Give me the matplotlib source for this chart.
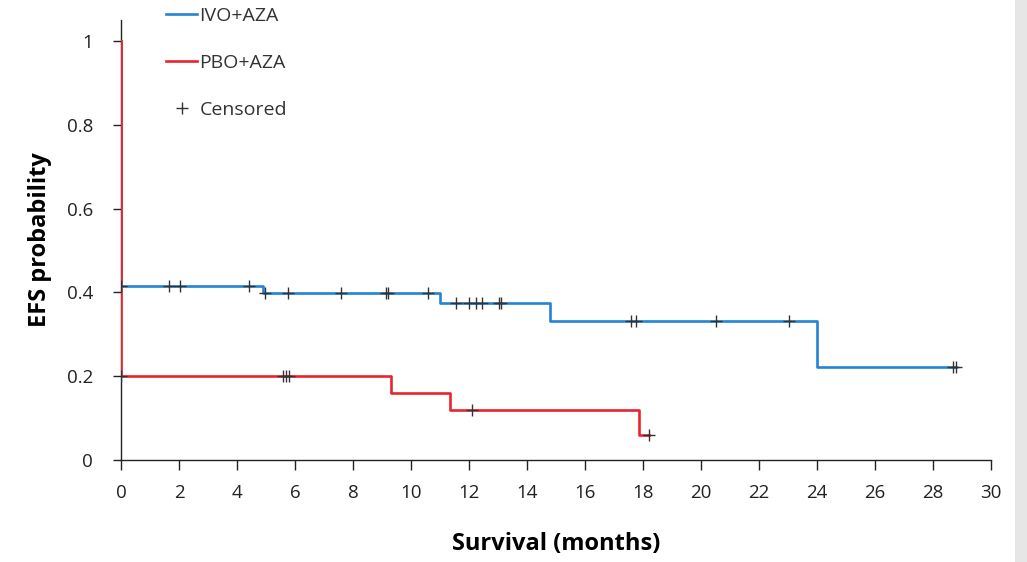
import numpy as np
import matplotlib
matplotlib.use('Agg')
import matplotlib.pyplot as plt
from matplotlib.lines import Line2D
from matplotlib.patches import Rectangle

# Kaplan-Meier step data
ivo_drop_times = [0, 4.9, 11.0, 14.8, 24.0]
ivo_levels = [0.415, 0.399, 0.375, 0.332, 0.222]
ivo_end = 28.8
ivo_censored = [0, 1.65, 2.05, 4.4, 4.95, 5.75, 7.6, 9.15, 9.22, 10.6, 11.55,
                12.0, 12.25, 12.45, 13.03, 13.1, 17.6, 17.75, 20.5, 23.05,
                28.7, 28.8]

pbo_drop_times = [0, 9.3, 11.35, 17.85]
pbo_levels = [0.2, 0.16, 0.12, 0.06]
pbo_end = 18.2
pbo_censored = [0, 5.6, 5.7, 5.8, 12.1, 18.2]

x_ticks = list(range(0, 31, 2))
y_ticks = [0, 0.2, 0.4, 0.6, 0.8, 1]
y_tick_labels = ['0', '0.2', '0.4', '0.6', '0.8', '1']

BLUE = '#2383d4'
RED = '#e8242c'

plt.rcParams['font.family'] = ['Open Sans', 'DejaVu Sans']


def draw_km(ax, drops, levels, end, censored, color):
    xs = [0] + list(drops) + [end]
    ys = [1.0] + list(levels) + [levels[-1]]
    ax.step(xs, ys, where='post', color=color, linewidth=1.9, zorder=3)
    idx = np.searchsorted(drops, censored, side='right') - 1
    cy = np.array(levels)[idx]
    ax.plot(censored, cy, linestyle='none', marker='+', markersize=8,
            markeredgewidth=1.0, color='#333333', zorder=4)


fig = plt.figure(figsize=(10.27, 5.62), dpi=100)
ax = fig.add_axes([0.1178, 0.1815, 0.8472, 0.7829])

draw_km(ax, ivo_drop_times, ivo_levels, ivo_end, ivo_censored, BLUE)
draw_km(ax, pbo_drop_times, pbo_levels, pbo_end, pbo_censored, RED)

ax.set_xlim(0, 30)
ax.set_ylim(0, 1.05)
ax.set_xticks(x_ticks)
ax.set_yticks(y_ticks)
ax.set_yticklabels(y_tick_labels)
ax.tick_params(axis='x', direction='out', length=7, width=1, labelsize=13.5,
               colors='#222222', pad=10)
ax.tick_params(axis='y', direction='out', length=6, width=1, labelsize=13.5,
               colors='#222222', pad=14)
for s in ['top', 'right']:
    ax.spines[s].set_visible(False)
for s in ['left', 'bottom']:
    ax.spines[s].set_color('#222222')
    ax.spines[s].set_linewidth(1)
ax.spines['left'].set_position(('data', 0))
ax.spines['bottom'].set_bounds(0, 30)

ax.set_xlabel('Survival (months)', fontsize=17, fontweight='bold', labelpad=22)
ax.set_ylabel('EFS probability', fontsize=17, fontweight='bold', labelpad=11)

handles = [
    Line2D([], [], color=BLUE, linewidth=1.9),
    Line2D([], [], color=RED, linewidth=1.9),
    Line2D([], [], linestyle='none', marker='+', markersize=8,
           markeredgewidth=1.0, color='#333333'),
]
leg = ax.legend(handles, ['IVO+AZA', 'PBO+AZA', 'Censored'],
                loc='upper left', bbox_to_anchor=(0.032, 1.07),
                frameon=False, fontsize=14, labelspacing=1.5,
                handlelength=1.6, handletextpad=0.1)
for t in leg.get_texts():
    t.set_color('#333333')

# light gray strip at right edge of the original image
fig.patches.append(Rectangle((0.988, 0), 0.012, 1, transform=fig.transFigure,
                             facecolor='#e6e6e6', edgecolor='none'))

fig.savefig('out.png', dpi=100)
